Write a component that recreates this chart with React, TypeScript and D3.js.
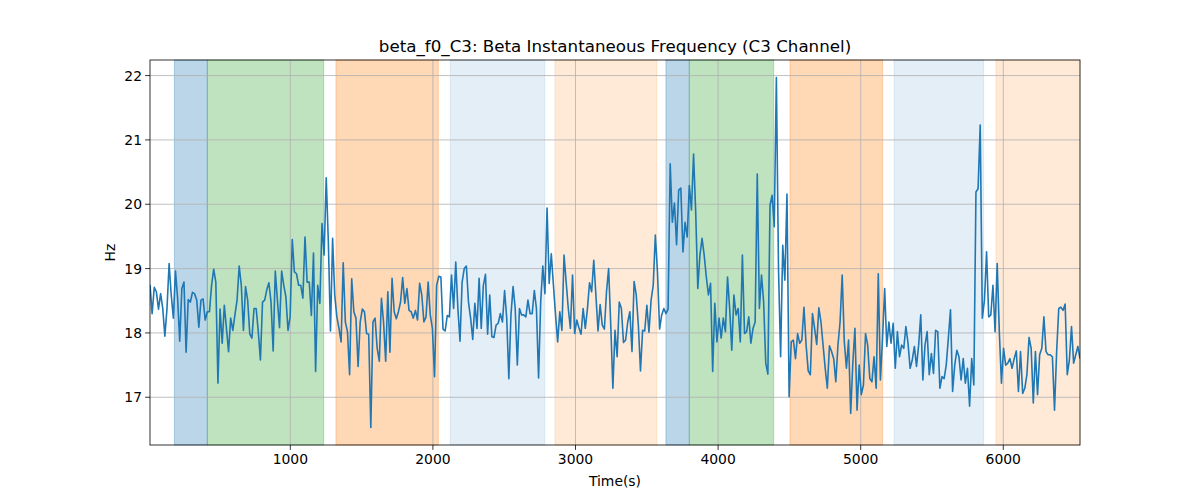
import { useEffect } from 'react'
import * as d3 from 'd3'

const W = 1200
const H = 500
const ML = 150
const MR = 120
const MT = 60
const MB = 55
const FONT = 'DejaVu Sans, sans-serif'

// sampling of the signal (s)
const T_START = 16
const T_END = 6538

// beta instantaneous frequency, Hz, one value per sample
const values: number[] = [
  18.75, 18.3, 18.71, 18.64, 18.37, 18.61, 18.38, 17.95, 18.38, 19.08, 18.59, 18.23, 18.96, 18.54, 17.87, 18.69,
  18.79, 17.7, 18.52, 18.48, 18.63, 18.61, 18.51, 18.09, 18.51, 18.53, 18.2, 18.33, 18.33, 18.74, 18.99, 18.79,
  17.22, 18.37, 17.84, 18.43, 18.07, 17.71, 18.23, 18.04, 18.28, 18.51, 19.04, 18.74, 18.04, 18.72, 18.51, 17.98,
  17.92, 18.38, 18.38, 18.02, 17.58, 18.48, 18.51, 18.67, 18.78, 18.48, 17.72, 18.96, 18.51, 18.08, 18.96, 18.74,
  18.56, 18.04, 18.25, 19.45, 18.95, 18.92, 18.74, 18.74, 18.54,
  19.49, 18.79, 18.79, 18.27, 19.24, 17.4, 18.74, 18.46, 19.7, 19.21, 20.41, 19.41, 18.03, 19.47, 18.59, 18.25,
  18.07, 17.86, 19.09, 18.17, 18.02, 17.35, 18.84, 18.33, 18.23, 17.48, 18.17, 18.37, 18.33, 17.99, 17.98, 16.53,
  18.17, 18.23, 17.76, 17.56, 18.54, 18.17, 17.56, 18.64, 17.7, 18.85, 18.33, 18.22, 18.33, 18.48, 18.86, 18.46,
  18.69, 18.35, 18.33, 18.23, 18.35, 18.2, 18.77, 18.59, 18.17, 18.25, 18.79, 18.28, 18.07, 17.32, 18.74, 18.88,
  18.87, 18.06, 18.03, 18.27, 18.25, 18.9, 18.38, 19.1,
  18.38, 17.87, 18.79, 19.0, 19.04, 18.48, 18.23, 17.9, 18.46, 18.07, 18.85, 18.07, 18.74, 18.91, 17.98, 18.59,
  17.94, 17.93, 18.12, 18.15, 18.3, 18.17, 18.66, 18.23, 17.29, 18.28, 18.72, 18.38, 17.5, 18.38, 18.28, 18.28,
  18.25, 18.51, 18.3, 18.3, 18.66, 18.38, 17.3, 18.48, 19.04, 18.61, 19.94, 18.77, 19.23, 18.74, 18.28, 17.86,
  18.33, 18.04, 19.21, 18.79, 18.38, 18.07, 18.9, 17.99, 18.2, 18.08, 17.98, 18.38, 18.07, 18.37, 18.78, 18.64,
  19.13, 18.59, 18.03, 18.44, 18.12,
  18.06, 18.64, 19.0, 18.12, 17.14, 18.04, 17.63, 18.48, 18.38, 17.85, 17.89, 18.17, 18.33, 17.71, 18.8, 18.59,
  18.12, 17.41, 18.04, 18.03, 18.43, 18.01, 18.51, 18.74, 19.52, 18.95, 18.06, 18.28, 18.38, 18.3, 18.37, 20.63,
  19.72, 20.02, 19.37, 20.22, 20.25, 19.26, 19.72, 19.49, 20.29, 19.91, 20.78, 19.88, 18.69, 19.21, 19.47, 19.21,
  18.87, 18.59, 18.77, 17.4, 18.46, 17.86, 18.23, 17.92, 18.23, 18.02, 18.87, 18.38, 17.73, 18.59, 18.28, 18.38,
  17.86, 19.21, 17.99, 18.02, 18.25, 17.84,
  18.07, 18.17, 20.47, 18.38, 18.9, 18.48, 17.53, 17.36, 19.98, 20.14, 19.65, 21.97, 19.0, 17.63, 19.36, 18.82,
  20.16, 17.01, 17.86, 17.89, 17.6, 17.99, 17.84, 17.89, 18.4, 17.81, 17.41, 17.35, 18.3, 18.07, 17.82, 18.39,
  18.17, 17.81, 17.45, 17.14, 17.8, 17.71, 17.6, 17.24, 17.81, 18.17, 18.9, 17.86, 17.45, 17.89, 16.75, 17.53,
  18.07, 16.8, 17.5, 17.04, 17.19, 17.99, 17.81, 17.29, 17.24, 17.63, 17.14, 18.92, 17.27, 17.92, 18.69, 17.79,
  18.17, 17.84, 18.15, 17.45, 18.02, 17.63,
  17.81, 17.76, 18.1, 17.84, 17.45, 17.58, 17.79, 17.48, 17.81, 18.28, 17.27, 17.81, 18.02, 17.35, 17.68, 17.37,
  18.04, 18.02, 17.14, 17.32, 17.29, 17.5, 17.92, 18.36, 17.09, 17.5, 17.73, 17.63, 17.27, 17.6, 17.22, 17.45,
  16.86, 17.6, 17.19, 20.19, 20.24, 21.23, 18.23, 18.51, 19.26, 18.25, 18.28, 18.74, 18.02, 19.08, 18.02, 17.22,
  17.76, 17.5, 17.53, 17.6, 17.45, 17.6, 17.72, 17.09, 17.71, 17.06, 17.14, 17.35, 17.93, 17.76, 16.91, 17.71,
  17.04, 17.66, 17.76, 18.25, 17.71, 17.66, 17.66, 17.63, 16.8, 17.71, 18.38, 18.4, 18.35, 18.45, 17.35, 17.58,
  18.1, 17.53, 17.66, 17.79, 17.6,
]

// shaded epochs: start, end (s) and style
const spanStarts = [187, 418, 1320, 2122, 2856, 3634, 3798, 4504, 5234, 5949]
const spanEnds = [418, 1234, 2038, 2784, 3571, 3798, 4390, 5154, 5862, 6538]
const spanColors = ['#1f77b4', '#2ca02c', '#ff7f0e', '#1f77b4', '#ff7f0e', '#1f77b4', '#2ca02c', '#ff7f0e', '#1f77b4', '#ff7f0e']
const spanAlphas = [0.3, 0.3, 0.3, 0.12, 0.16, 0.3, 0.3, 0.3, 0.12, 0.16]

const xTicks = [1000, 2000, 3000, 4000, 5000, 6000]
const yTicks = [17, 18, 19, 20, 21, 22]

export default function App() {
  useEffect(() => {
    document.body.style.margin = '0'
  }, [])

  const CW = W - ML - MR
  const CH = H - MT - MB
  const step = (T_END - T_START) / (values.length - 1)
  const pts = values.map((v, i) => ({ t: T_START + i * step, v }))

  const x = d3.scaleLinear().domain([T_START, T_END]).range([ML, ML + CW])
  const [lo = 0, hi = 0] = d3.extent(values) as [number, number]
  const pad = (hi - lo) * 0.05
  const y = d3.scaleLinear().domain([lo - pad, hi + pad]).range([MT + CH, MT])

  const line = d3.line<{ t: number; v: number }>()
    .x((d) => x(d.t))
    .y((d) => y(d.v))

  return (
    <svg width={W} height={H} style={{ display: 'block', background: '#fff' }} fontFamily={FONT}>
      <defs>
        <clipPath id="plot">
          <rect x={ML} y={MT} width={CW} height={CH} />
        </clipPath>
      </defs>

      {/* epoch spans */}
      {spanStarts.map((s, i) => (
        <rect
          key={i}
          x={x(s)}
          y={MT}
          width={x(spanEnds[i]) - x(s)}
          height={CH}
          fill={spanColors[i]}
          fillOpacity={spanAlphas[i]}
          stroke={spanColors[i]}
          strokeOpacity={spanAlphas[i]}
          strokeWidth={1}
        />
      ))}

      {/* grid */}
      {xTicks.map((t) => (
        <line key={t} x1={x(t)} x2={x(t)} y1={MT} y2={MT + CH} stroke="#b0b0b0" strokeWidth={0.8} />
      ))}
      {yTicks.map((t) => (
        <line key={t} x1={ML} x2={ML + CW} y1={y(t)} y2={y(t)} stroke="#b0b0b0" strokeWidth={0.8} />
      ))}

      <path
        d={line(pts) ?? ''}
        fill="none"
        stroke="#1f77b4"
        strokeWidth={1.6}
        strokeLinejoin="round"
        clipPath="url(#plot)"
      />

      {/* frame */}
      <rect x={ML} y={MT} width={CW} height={CH} fill="none" stroke="#000" strokeWidth={0.8} />

      {/* ticks */}
      {xTicks.map((t) => (
        <g key={t}>
          <line x1={x(t)} x2={x(t)} y1={MT + CH} y2={MT + CH + 4.9} stroke="#000" strokeWidth={0.8} />
          <text x={x(t)} y={MT + CH + 19} textAnchor="middle" fontSize={13.9} fill="#000">
            {t}
          </text>
        </g>
      ))}
      {yTicks.map((t) => (
        <g key={t}>
          <line x1={ML - 4.9} x2={ML} y1={y(t)} y2={y(t)} stroke="#000" strokeWidth={0.8} />
          <text x={ML - 8} y={y(t) + 5} textAnchor="end" fontSize={13.9} fill="#000">
            {t}
          </text>
        </g>
      ))}

      <text x={ML + CW / 2} y={MT + CH + 41} textAnchor="middle" fontSize={13.9} fill="#000">
        Time(s)
      </text>
      <text
        transform={`translate(${ML - 35},${MT + CH / 2}) rotate(-90)`}
        textAnchor="middle"
        fontSize={13.9}
        fill="#000"
      >
        Hz
      </text>
      <text x={ML + CW / 2} y={MT - 8} textAnchor="middle" fontSize={16.7} fill="#000">
        beta_f0_C3: Beta Instantaneous Frequency (C3 Channel)
      </text>
    </svg>
  )
}
